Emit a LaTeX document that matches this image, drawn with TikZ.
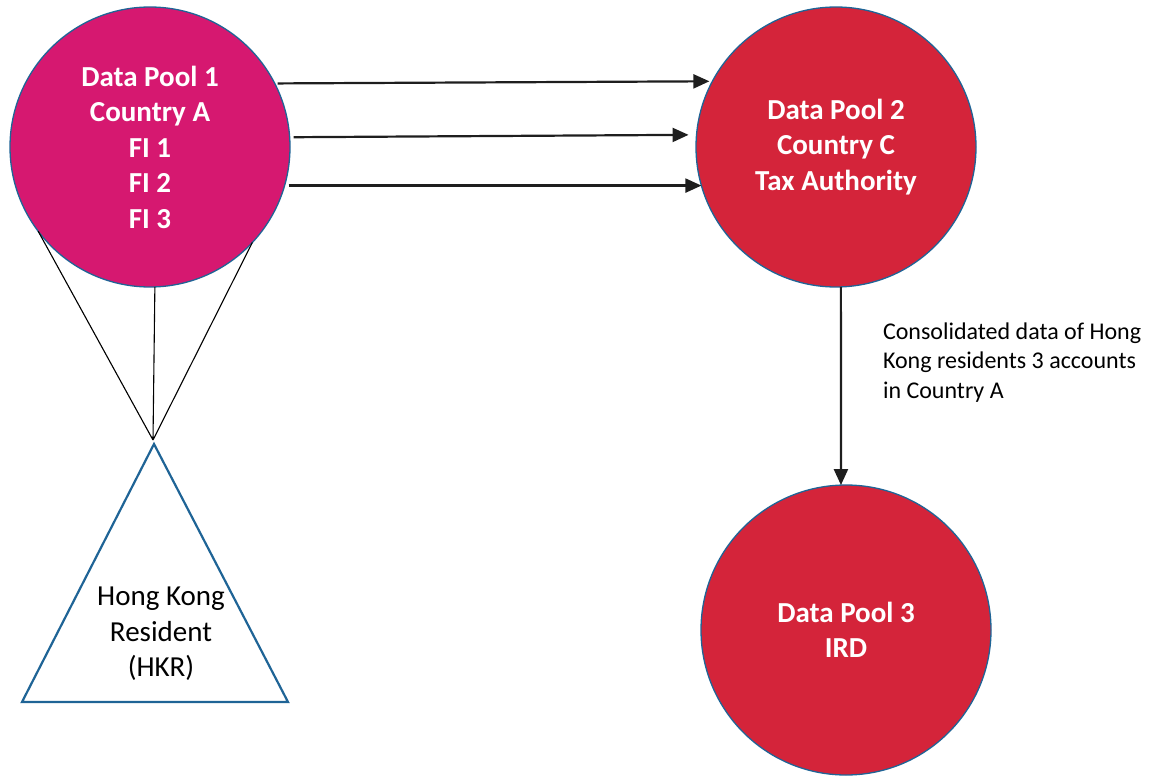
\documentclass[tikz,border=0pt]{standalone}
\usepackage{fontspec}
\setmainfont{Carlito}
\usetikzlibrary{calc,arrows.meta}

\definecolor{poolpink}{RGB}{214,24,112}
\definecolor{poolred}{RGB}{212,36,58}
\definecolor{rimblue}{RGB}{31,100,150}
\definecolor{arrowgrey}{RGB}{30,30,30}

\begin{document}
\begin{tikzpicture}[x=1pt,y=-1pt,>={Triangle[length=16pt,width=14pt]},
	pool/.style={circle,draw=rimblue,line width=1.3pt,text=white,inner sep=0pt,outer sep=0pt,
		align=center,font=\fontsize{29}{35.5}\selectfont\bfseries},
	flow/.style={->,draw=arrowgrey,line width=2.2pt},
	link/.style={line width=1.1pt}]

	\useasboundingbox (0,0) rectangle (1159,776);

	% the three data pools
	\node[pool,fill=poolpink,minimum size=280pt] (dp1) at (150,147) {Data Pool 1\\Country A\\FI 1\\FI 2\\FI 3};
	\node[pool,fill=poolred,minimum size=280pt] (dp2) at (836,147) {Data Pool 2\\Country C\\Tax Authority};
	\node[pool,fill=poolred,minimum size=290pt] (dp3) at (846,630) {Data Pool 3\\IRD};

	% define the corners of the resident triangle
	\coordinate (top) at (154,444);
	\coordinate (bl) at (22,702);
	\coordinate (br) at (288,702);
	\draw[rimblue,line width=2.2pt] (top) -- (bl) -- (br) -- cycle;
	\node[font=\fontsize{29}{35.5}\selectfont,align=center] (hkr) at (161,634) {Hong Kong\\Resident\\(HKR)};

	% lines from the pool down to the resident
	\coordinate (meet) at (153,440);
	\draw[link] (dp1.217) -- (meet) (dp1.272) -- (meet) (dp1.317) -- (meet);

	% transfers from country A to country C
	\draw[flow,shorten <=3pt,shorten >=3pt] (dp1.27.7) -- (dp2.152.3);
	\draw[flow,shorten <=4pt,shorten >=8pt] (dp1.4.9) -- (dp2.175.1);
	\draw[flow,shorten <=4pt] (dp1.-16.2) -- (dp2.196.2);

	% exchange to the IRD
	\draw[flow] (dp2.-88) -- (dp3.92)
		node[pos=.38,right=41pt,inner sep=0pt,align=left,font=\fontsize{24}{29.5}\selectfont]
		{Consolidated data of Hong\\Kong residents 3 accounts\\in Country A};

\end{tikzpicture}
\end{document}
